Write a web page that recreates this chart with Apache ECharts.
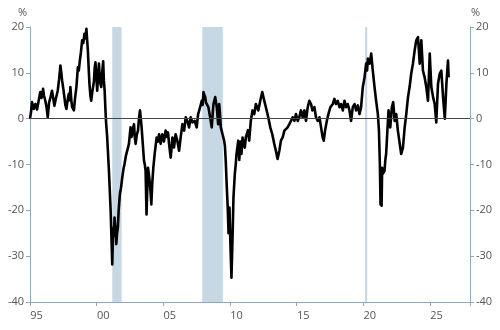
<!DOCTYPE html>
<html>
<head>
<meta charset="utf-8">
<script src="https://cdn.jsdelivr.net/npm/echarts@6/dist/echarts.min.js"></script>
<style>html,body{margin:0;padding:0;background:#fff}#c{width:500px;height:330px}</style>
</head>
<body>
<div id="c"></div>
<script>
// Observation dates (decimal years)
const dates = [
1995.00,1995.08,1995.15,1995.28,1995.40,1995.53,1995.65,1995.77,1995.86,1995.98,
1996.05,1996.15,1996.24,1996.33,1996.43,1996.54,1996.65,1996.74,1996.83,1996.95,
1997.08,1997.18,1997.28,1997.35,1997.41,1997.50,1997.58,1997.65,1997.73,1997.82,
1997.91,1997.97,1998.03,1998.10,1998.16,1998.29,1998.38,1998.48,1998.59,1998.66,
1998.74,1998.82,1998.91,1999.00,1999.08,1999.16,1999.23,1999.29,1999.34,1999.40,
1999.46,1999.53,1999.59,1999.68,1999.79,1999.85,1999.91,1999.98,2000.04,2000.10,
2000.17,2000.25,2000.34,2000.41,2000.49,2000.54,2000.60,2000.66,2000.71,2000.79,
2000.92,2001.04,2001.10,2001.17,2001.21,2001.24,2001.29,2001.34,2001.41,2001.47,
2001.53,2001.59,2001.65,2001.74,2001.83,2001.92,2002.01,2002.09,2002.20,2002.29,
2002.42,2002.54,2002.61,2002.67,2002.74,2002.80,2002.86,2002.92,2003.01,2003.10,
2003.17,2003.25,2003.31,2003.37,2003.46,2003.55,2003.61,2003.67,2003.74,2003.80,
2003.85,2003.91,2003.97,2004.04,2004.10,2004.17,2004.25,2004.35,2004.42,2004.50,
2004.59,2004.68,2004.80,2004.92,2005.05,2005.17,2005.26,2005.35,2005.43,2005.55,
2005.60,2005.68,2005.80,2005.92,2006.05,2006.18,2006.30,2006.43,2006.56,2006.68,
2006.80,2006.93,2007.05,2007.18,2007.35,2007.50,2007.61,2007.76,2007.88,2007.95,
2008.01,2008.14,2008.20,2008.26,2008.38,2008.51,2008.63,2008.70,2008.76,2008.89,
2009.01,2009.11,2009.19,2009.25,2009.31,2009.44,2009.56,2009.62,2009.68,2009.76,
2009.83,2009.89,2009.92,2009.96,2010.04,2010.11,2010.19,2010.26,2010.36,2010.43,
2010.49,2010.62,2010.70,2010.74,2010.79,2010.86,2010.94,2011.02,2011.11,2011.19,
2011.26,2011.35,2011.44,2011.56,2011.69,2011.82,2011.94,2012.03,2012.12,2012.27,
2012.42,2012.57,2012.69,2012.87,2013.02,2013.17,2013.32,2013.44,2013.57,2013.70,
2013.82,2013.95,2014.08,2014.20,2014.32,2014.45,2014.57,2014.70,2014.83,2014.95,
2015.08,2015.20,2015.32,2015.45,2015.58,2015.70,2015.83,2015.95,2016.08,2016.18,
2016.33,2016.45,2016.58,2016.71,2016.83,2016.95,2017.03,2017.13,2017.26,2017.38,
2017.53,2017.71,2017.83,2017.95,2018.08,2018.21,2018.33,2018.46,2018.59,2018.71,
2018.83,2018.96,2019.08,2019.21,2019.34,2019.46,2019.59,2019.71,2019.83,2019.96,
2020.09,2020.21,2020.28,2020.34,2020.47,2020.59,2020.71,2020.84,2020.96,2021.09,
2021.17,2021.24,2021.29,2021.33,2021.37,2021.41,2021.47,2021.59,2021.65,2021.71,
2021.79,2021.89,2022.02,2022.14,2022.24,2022.35,2022.47,2022.59,2022.72,2022.84,
2022.97,2023.10,2023.22,2023.35,2023.47,2023.59,2023.72,2023.85,2023.97,2024.10,
2024.23,2024.35,2024.47,2024.60,2024.72,2024.85,2024.98,2025.10,2025.23,2025.35,
2025.47,2025.60,2025.73,2025.85,2025.98,2026.11,2026.23,2026.35,2026.40
];
// Year-on-year change, %
const values = [
0,1.5,3.6,2.1,3.2,2.0,3.9,5.8,4.5,6.5,
5.0,3.9,2.5,0.3,3.5,4.7,6.1,4.5,2.8,4.5,
6.1,8.5,11.6,10,8.3,6.5,4.7,3.0,2.1,4.0,
5.4,4.0,6.9,4.0,2.5,1.8,4.5,6.9,11.2,10.5,
12.7,14.5,17.1,16.5,18.5,17.5,19.6,17,14.9,11,
7.6,5.0,3.9,6,8,11,12.3,9,6.1,9,
12,8,6.9,10,12.5,8.3,6,1.8,-1,-4.1,
-11.4,-19.4,-25,-31.8,-27,-23.8,-25.5,-21.6,-24,-27.4,
-25,-23.8,-20,-16.5,-15,-12.8,-11,-9.9,-8,-7.7,
-5.5,-1.9,-4,-3.4,-2,-1.2,-4,-5.5,-3.5,-2.6,
0,1.8,0,-1.9,-5.5,-9.2,-10,-11.4,-20.9,-15,
-10.7,-12,-13.6,-16,-18.7,-14,-10.7,-7.7,-6,-4.1,
-5,-3.4,-5.5,-3.4,-5,-2.6,-4,-3,-5.5,-8.5,
-7,-4.1,-6.3,-3.4,-4.8,-7,-4.1,-1.2,-2.6,0.3,
-0.5,-1.9,0.3,-0.8,-0.5,-1.9,1.0,2.5,3.9,3,
5.8,4.7,3.5,3.9,2.5,0.3,-1.9,1,3.2,4.7,
2.5,-1.2,3.2,1,-1.9,-3.4,-4.8,-6,-9.2,-15,
-19.4,-25,-21,-19.4,-28.2,-34.7,-26,-17.2,-12.1,-10,
-7.7,-4.8,-9,-6.3,-5,-7.7,-4.1,-5.5,-6.3,-4,
-3.4,-2.5,-4.8,-0.5,1.8,1.0,3.2,2.5,1.8,3.9,
5.8,3.9,2.5,0.3,-1.9,-3.4,-5.5,-7,-8.8,-7,
-4.8,-4.1,-2.6,-2.9,-1.9,-1.2,-0.5,0.3,-0.5,1.0,
-0.5,0.3,1.8,0.3,1.8,-0.5,2.5,3.9,3.2,1.8,
2.5,0.3,-0.5,0.3,-1.9,-4.1,-4.8,-2.6,-0.5,1.0,
2.5,3.2,4.3,3.2,3.9,2.5,3.2,1.8,3.9,2.5,
3.2,1.8,-0.5,2.5,3.2,1.8,2.9,1.0,2.5,6.9,
9.0,12,10.5,13.1,12,14.2,10.5,6.9,3.9,1.0,
-2.6,-9.9,-18.7,-12,-19,-10.7,-12,-11.4,-9,-7.7,
-3.4,1.8,-1.9,2.5,3.6,-0.5,1.0,-2.6,-2.6,-7.7,
-6.3,-1.9,1.0,4.7,6.9,9.8,12,14.9,17.1,17.8,
12,17.1,10.5,9,6.9,3.9,14.2,6.9,4.7,3.2,
-0.8,7.6,9.8,10.5,4.7,0,7.6,12.7,9
];
// Recession periods (start, end) in decimal years
const recessionStarts = [2001.17, 2007.92, 2020.13];
const recessionEnds   = [2001.87, 2009.46, 2020.29];
// Axis settings
const xMin = 1995, xMax = 2028, xStep = 5;
const yMin = -40, yMax = 20, yStep = 10;

const axisCol = '#8ea8bf';
const labelCol = '#555';
const fontFam = '"Open Sans", "Noto Sans", sans-serif';

const lineData = dates.map((d, i) => [d, values[i]]);
const recAreas = recessionStarts.map((s, i) => [{xAxis: s}, {xAxis: recessionEnds[i]}]);

const chart = echarts.init(document.getElementById('c'), null, {renderer: 'canvas'});
const yAxisBase = (pos) => ({
  type: 'value', position: pos, min: yMin, max: yMax, interval: yStep,
  axisLine: {show: true, lineStyle: {color: axisCol, width: 1}},
  axisTick: {show: true, length: 4, lineStyle: {color: axisCol}},
  axisLabel: {color: labelCol, fontSize: 11, fontFamily: fontFam, margin: 6},
  splitLine: {show: false}
});
chart.setOption({
  animation: false,
  grid: {left: 30, right: 30, top: 27, bottom: 28},
  xAxis: {
    type: 'value', min: xMin, max: xMax, interval: xStep,
    axisLine: {show: true, onZero: false, lineStyle: {color: axisCol, width: 1}},
    axisTick: {show: true, length: 4, lineStyle: {color: axisCol}},
    axisLabel: {
      color: labelCol, fontSize: 11, fontFamily: fontFam, margin: 8,
      padding: [0, 0, 0, 13],
      formatter: v => (v % 5 === 0 && v < xMax) ? String(v % 100).padStart(2, '0') : ''
    },
    splitLine: {show: false}
  },
  yAxis: [yAxisBase('left'), yAxisBase('right')],
  graphic: [
    {type: 'text', left: 18, top: 7, style: {text: '%', fill: labelCol, fontSize: 11, fontFamily: fontFam}},
    {type: 'text', left: 471, top: 7, style: {text: '%', fill: labelCol, fontSize: 11, fontFamily: fontFam}}
  ],
  series: [
    {
      type: 'line', data: [], z: 1, silent: true,
      markArea: {silent: true, itemStyle: {color: '#c6d8e3'}, data: recAreas}
    },
    {
      type: 'line', data: [], z: 2, silent: true,
      markLine: {silent: true, symbol: 'none', label: {show: false},
        lineStyle: {color: '#444', width: 1, type: 'solid'}, data: [{yAxis: 0}]}
    },
    {
      type: 'line', data: lineData, z: 3, showSymbol: false, silent: true,
      lineStyle: {color: '#000', width: 2.6, join: 'round'}
    }
  ]
});
</script>
</body>
</html>
